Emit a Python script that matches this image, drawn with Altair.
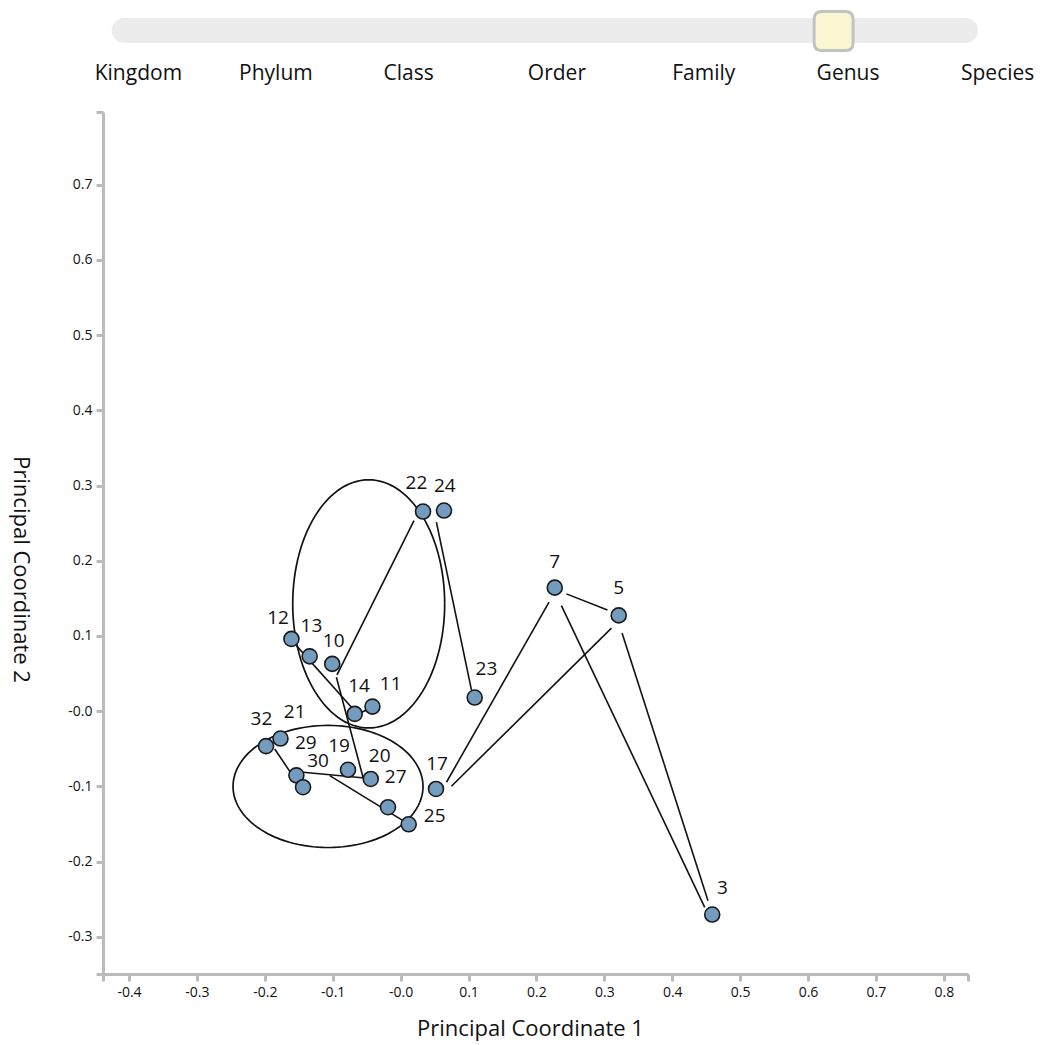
import altair as alt
import pandas as pd

# ---------------- data ----------------
point_ids = ["22", "24", "12", "13", "10", "14", "11", "23", "32", "21",
             "29", "30", "19", "27", "20", "25", "17", "7", "5", "3"]
pc1 = [0.0330, 0.0639, -0.1608, -0.1339, -0.1007, -0.0676, -0.0415, 0.1091, -0.1982, -0.1769,
       -0.1535, -0.1437, -0.0775, -0.0440, -0.0186, 0.0119, 0.0521, 0.2270, 0.3212, 0.4589]
pc2 = [0.2654, 0.2667, 0.0960, 0.0728, 0.0628, -0.0037, 0.0060, 0.0180, -0.0466, -0.0365,
       -0.0854, -0.1012, -0.0780, -0.0902, -0.1278, -0.1505, -0.1035, 0.1642, 0.1273, -0.2705]

# label anchor positions (data units)
label_pc1 = [0.0233, 0.0651, -0.1805, -0.1314, -0.0985, -0.0613, -0.0146, 0.1263, -0.2050, -0.1560,
             -0.1397, -0.1216, -0.0907, -0.0072, -0.0308, 0.0502, 0.0536, 0.2270, 0.3212, 0.4739]
label_pc2 = [0.3036, 0.2997, 0.1236, 0.1138, 0.0938, 0.0339, 0.0362, 0.0561, -0.0104, -0.0014,
             -0.0427, -0.0659, -0.0458, -0.0873, -0.0591, -0.1389, -0.0702, 0.1981, 0.1631, -0.2355]

# connecting segments (data units)
seg_x1 = [0.0197, -0.0946, 0.0527, -0.1535, -0.0577, -0.1854, -0.1437, -0.1044,
          0.2442, 0.2186, 0.3105, 0.2368, 0.3261]
seg_y1 = [0.2534, 0.0451, 0.2513, 0.0871, -0.0015, -0.0503, -0.0813, -0.0858,
          0.1559, 0.1449, 0.1103, 0.1403, 0.1040]
seg_x2 = [-0.0937, -0.0554, 0.1043, -0.0701, -0.0455, -0.1608, -0.0529, 0.0035,
          0.3046, 0.0675, 0.0748, 0.4479, 0.4527]
seg_y2 = [0.0482, -0.0879, 0.0282, 0.0029, 0.0029, -0.0835, -0.0889, -0.1457,
          0.1346, -0.0946, -0.0999, -0.2609, -0.2521]

# group ellipses (centre, radii in data units)
ell_id = ["upper", "lower"]
ell_cx = [-0.0470, -0.1069]
ell_cy = [0.1426, -0.1002]
ell_rx = [0.1119, 0.1399]
ell_ry = [0.1650, 0.0812]
ell_angles = list(range(0, 361, 3))

# taxonomic slider
levels = ["Kingdom", "Phylum", "Class", "Order", "Family", "Genus", "Species"]
selected_level = "Genus"

x_ticks = [-0.4, -0.3, -0.2, -0.1, 0.0, 0.1, 0.2, 0.3, 0.4, 0.5, 0.6, 0.7, 0.8]
y_ticks = [-0.3, -0.2, -0.1, 0.0, 0.1, 0.2, 0.3, 0.4, 0.5, 0.6, 0.7]
x_domain = [-0.4383, 0.8356]
y_domain = [-0.3496, 0.7967]

# ---------------- frames ----------------
pts = pd.DataFrame({"id": point_ids, "pc1": pc1, "pc2": pc2})
labs = pd.DataFrame({"id": point_ids, "lx": label_pc1, "ly": label_pc2})
segs = pd.DataFrame({"x1": seg_x1, "y1": seg_y1, "x2": seg_x2, "y2": seg_y2})
ells = pd.DataFrame({"ell": ell_id, "cx": ell_cx, "cy": ell_cy, "rx": ell_rx, "ry": ell_ry,
                     "t": [ell_angles] * len(ell_id)})

FONT = "Open Sans"
LINE = "#111111"
AXIS_GRAY = "#bbbbbb"

xs = alt.Scale(domain=x_domain, nice=False, zero=False)
ys = alt.Scale(domain=y_domain, nice=False, zero=False)

x_label_expr = ("datum.value < -0.41 || datum.value > 0.81 ? '' : "
                "(abs(datum.value) < 1e-9 ? '-0.0' : "
                "((datum.value < 0 ? '-' : '') + format(abs(datum.value), '.1f')))")
y_label_expr = ("datum.value < -0.31 || datum.value > 0.71 ? '' : "
                "(abs(datum.value) < 1e-9 ? '-0.0' : "
                "((datum.value < 0 ? '-' : '') + format(abs(datum.value), '.1f')))")

x_axis = alt.Axis(values=[x_domain[0]] + x_ticks + [x_domain[1]], labelExpr=x_label_expr,
                  title="Principal Coordinate 1", titleY=54, titleX=427,
                  titleBaseline="middle", titleAlign="center", grid=False)
y_axis = alt.Axis(values=[y_domain[0]] + y_ticks + [y_domain[1]], labelExpr=y_label_expr,
                  title="Principal Coordinate 2", titleAngle=90, titleX=-83, titleY=457,
                  titleAlign="center", titleBaseline="middle", grid=False)

ellipses = alt.Chart(ells).transform_flatten(["t"]).transform_calculate(
    ex="datum.cx + datum.rx * cos(datum.t * PI / 180)",
    ey="datum.cy + datum.ry * sin(datum.t * PI / 180)",
).mark_line(color=LINE, strokeWidth=1.7).encode(
    x=alt.X("ex:Q", scale=xs, axis=x_axis),
    y=alt.Y("ey:Q", scale=ys, axis=y_axis),
    detail="ell:N",
    order="t:Q",
)

lines = alt.Chart(segs).mark_rule(color=LINE, strokeWidth=1.6).encode(
    x=alt.X("x1:Q", scale=xs), y=alt.Y("y1:Q", scale=ys),
    x2="x2:Q", y2="y2:Q",
)

points = alt.Chart(pts).mark_circle(size=225, color="#739cbf", opacity=1,
                                    stroke="#1a1a1a", strokeWidth=1.6).encode(
    x=alt.X("pc1:Q", scale=xs), y=alt.Y("pc2:Q", scale=ys),
)

labels = alt.Chart(labs).mark_text(fontSize=19, font=FONT, color="#111111",
                                   align="center", baseline="middle").encode(
    x=alt.X("lx:Q", scale=xs), y=alt.Y("ly:Q", scale=ys), text="id:N",
)

main = alt.layer(ellipses, lines, points, labels).properties(width=865, height=862)

# ---------------- slider ----------------
lev = pd.DataFrame({"level": levels, "idx": list(range(len(levels)))})
track_df = pd.DataFrame({"start": [0], "end": [len(levels) - 1]})
handle_df = pd.DataFrame({"pos": [levels.index(selected_level)]})

ss = alt.Scale(domain=[-0.0603, len(levels) - 1], nice=False, zero=False)

track = alt.Chart(track_df).mark_rect(color="#ececec", cornerRadius=12.5).encode(
    x=alt.X("start:Q", scale=ss, axis=None), x2="end:Q",
    y=alt.value(12), y2=alt.value(37),
)
handle_path = ("M -0.6,-1 L 0.6,-1 Q 1,-1 1,-0.6 L 1,0.6 Q 1,1 0.6,1 L -0.6,1 "
               "Q -1,1 -1,0.6 L -1,-0.6 Q -1,-1 -0.6,-1 Z")
handle = alt.Chart(handle_df).mark_point(shape=handle_path, size=1520, filled=True,
                                         fill="#fbf6d2", stroke="#c2c2c2",
                                         strokeWidth=3, opacity=1).encode(
    x=alt.X("pos:Q", scale=ss, axis=None), y=alt.value(25),
)
level_text = alt.Chart(lev).mark_text(align="left", dx=-17, baseline="alphabetic",
                                      fontSize=21, font=FONT, color="#111111").encode(
    x=alt.X("idx:Q", scale=ss, axis=None), y=alt.value(74), text="level:N",
)
slider = alt.layer(track, handle, level_text).properties(width=875, height=95)

chart = alt.vconcat(slider, main, spacing=9).properties(
    padding={"left": 9, "top": 5, "right": 5, "bottom": 2}
).configure(font=FONT).configure_view(
    stroke="transparent", strokeWidth=0
).configure_axis(
    domainColor=AXIS_GRAY, domainWidth=3, tickColor=AXIS_GRAY, tickWidth=3, tickSize=7,
    labelFontSize=14, labelColor="#111111", labelFont=FONT, labelPadding=4,
    titleFontSize=22, titleColor="#111111", titleFont=FONT, titleFontWeight="normal",
)

chart.save("out.html", embed_options={"renderer": "svg", "actions": False})
